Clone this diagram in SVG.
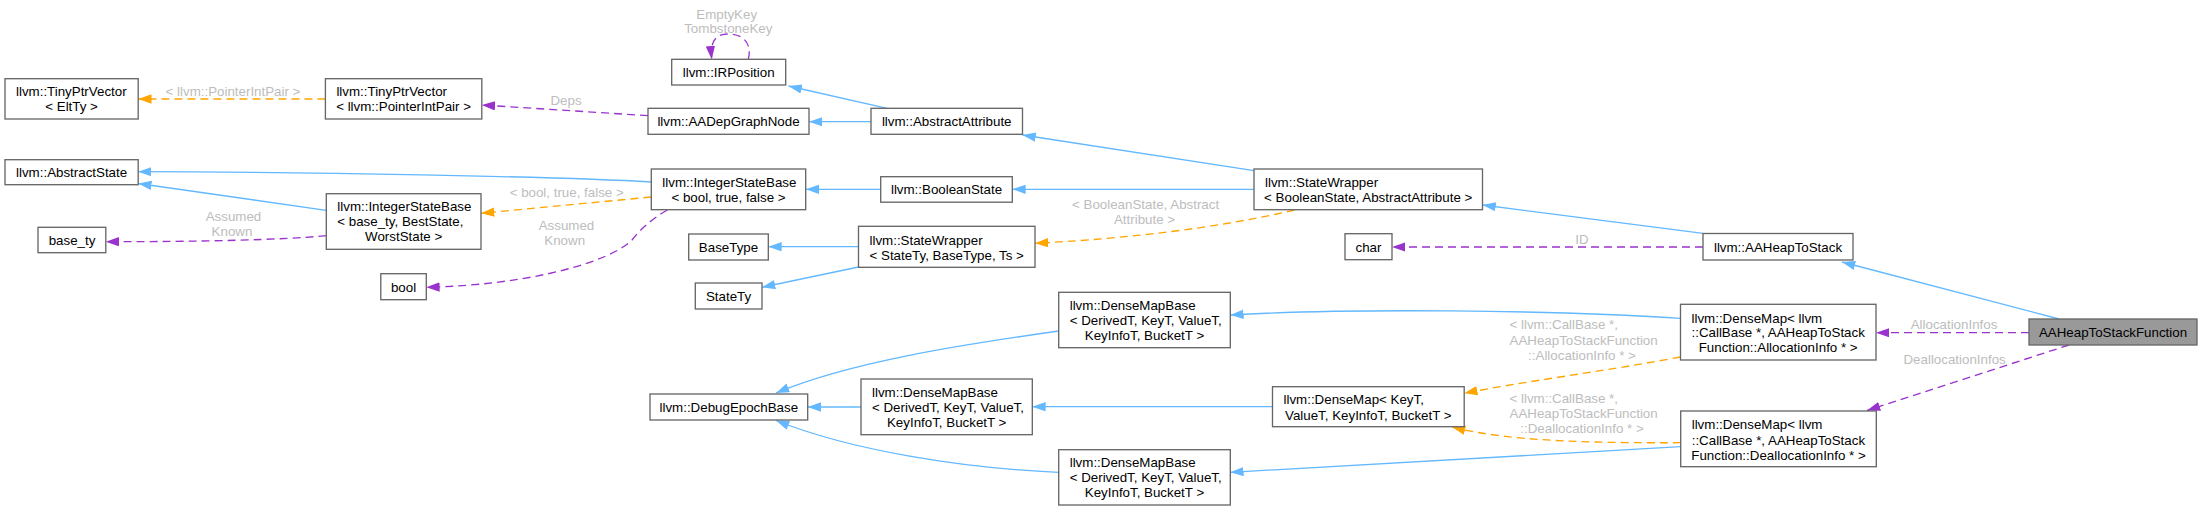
<svg xmlns="http://www.w3.org/2000/svg" width="2203" height="511" viewBox="0 0 2203 511">
<style>
text{font-family:"Liberation Sans",Arial,Helvetica,sans-serif;font-size:13.33px;fill:#000}
.nd{fill:#fff;stroke:#666;stroke-width:1.33}
.cur{fill:#999;stroke:#666;stroke-width:1.33}
.s{text-anchor:start}
.m{text-anchor:middle}
.lb{fill:#bdbdbd;font-size:13.33px}
.b{fill:none;stroke:#63b8ff;stroke-width:1.33;marker-end:url(#ab)}
.o{fill:none;stroke:#ffa500;stroke-width:1.33;stroke-dasharray:8,5;marker-end:url(#ao)}
.p{fill:none;stroke:#9a32cd;stroke-width:1.33;stroke-dasharray:8,5;marker-end:url(#ap)}
</style>
<defs>
<marker id="ab" markerUnits="userSpaceOnUse" markerWidth="15" markerHeight="11" refX="13.3" refY="4.67" orient="auto"><path d="M0,0 L13.3,4.67 L0,9.33 z" fill="#63b8ff"/></marker>
<marker id="ao" markerUnits="userSpaceOnUse" markerWidth="15" markerHeight="11" refX="13.3" refY="4.67" orient="auto"><path d="M0,0 L13.3,4.67 L0,9.33 z" fill="#ffa500"/></marker>
<marker id="ap" markerUnits="userSpaceOnUse" markerWidth="15" markerHeight="11" refX="13.3" refY="4.67" orient="auto"><path d="M0,0 L13.3,4.67 L0,9.33 z" fill="#9a32cd"/></marker>
</defs>
<rect width="2203" height="511" fill="#fff"/>
<g id="edges">
<path class="b" d="M2059,319 L1842,262"/>
<path class="b" d="M1703,233.3 L1482.5,205"/>
<path class="b" d="M1254,189.3 L1012.3,189.3"/>
<path class="b" d="M1254,170.7 L1022.5,135"/>
<path class="b" d="M880.7,189.3 L805.7,189.3"/>
<path class="b" d="M871,121.7 L809,121.7"/>
<path class="b" d="M887,108.3 L788.5,86"/>
<path class="b" d="M651.3,182 C560,176.5 300,172 138.2,171.7"/>
<path class="b" d="M326.3,210.3 L138.2,183.5"/>
<path class="b" d="M858.5,246.7 L768.3,246.7"/>
<path class="b" d="M858.5,267 L762,287.3"/>
<path class="b" d="M1680.5,318.3 C1550,310 1350,308 1230.3,315"/>
<path class="b" d="M1272.5,406.7 L1032.3,406.7"/>
<path class="b" d="M1680.7,446.7 L1230.3,472.3"/>
<path class="b" d="M1058.7,331 C960,345 850,362 776,393"/>
<path class="b" d="M861,407 L807.7,407"/>
<path class="b" d="M1058.7,472.3 C960,468 850,450 776,420.5"/>
<path class="o" d="M325.4,99 L138.2,99"/>
<text class="lb m" x="233" y="96.2">&lt; llvm::PointerIntPair &gt;</text>
<path class="o" d="M651.3,197 L481,213.3"/>
<text class="lb m" x="566.7" y="197.2">&lt; bool, true, false &gt;</text>
<path class="o" d="M1294.6,210 C1200,232 1100,240 1035,243.3"/>
<text class="lb m" x="1145.6" y="208.5">&lt; BooleanState, Abstract</text>
<text class="lb m" x="1144.5" y="223.5">Attribute &gt;</text>
<path class="o" d="M1680.5,357 C1600,372 1520,382 1464.2,393.3"/>
<text class="lb s" x="1509.5" y="328.8">&lt; llvm::CallBase *,</text>
<text class="lb s" x="1509.5" y="344.5">AAHeapToStackFunction</text>
<text class="lb m" x="1582" y="359.8">::AllocationInfo * &gt;</text>
<path class="o" d="M1680.7,442.7 C1600,443 1510,442 1452,427"/>
<text class="lb s" x="1509.5" y="402.8">&lt; llvm::CallBase *,</text>
<text class="lb s" x="1509.5" y="418.2">AAHeapToStackFunction</text>
<text class="lb m" x="1582" y="433.2">::DeallocationInfo * &gt;</text>
<path class="p" d="M648,115.7 L481.8,105"/>
<text class="lb m" x="566" y="104.5">Deps</text>
<path class="p" d="M748.3,59.3 C752,45 745,34 728,34 C715,34 710,42 711.7,59.3"/>
<text class="lb m" x="726.7" y="19.2">EmptyKey</text>
<text class="lb m" x="728.3" y="32.8">TombstoneKey</text>
<path class="p" d="M326.3,235.7 C280,240 200,241.7 105.8,241.7"/>
<text class="lb m" x="233.5" y="220.8">Assumed</text>
<text class="lb m" x="232" y="236.2">Known</text>
<path class="p" d="M667.4,210 C650,220 640,230 632,240 C610,262 530,285 426.3,287.3"/>
<text class="lb m" x="566.5" y="230.2">Assumed</text>
<text class="lb m" x="564.7" y="245.2">Known</text>
<path class="p" d="M1703,247 L1392,247"/>
<text class="lb m" x="1582" y="243.8">ID</text>
<path class="p" d="M2029,332.7 L1876,332.7"/>
<text class="lb m" x="1954" y="328.8">AllocationInfos</text>
<path class="p" d="M2069,345 L1867,410.5"/>
<text class="lb m" x="1954.6" y="364.2">DeallocationInfos</text>
</g>
<g id="n_aahtsf"><rect class="cur" x="2029" y="319" width="168" height="26"/><text class="m" x="2113" y="337.2">AAHeapToStackFunction</text></g>
<g id="n_aahts"><rect class="nd" x="1703" y="233.5" width="150" height="26.5"/><text class="m" x="1778" y="251.5">llvm::AAHeapToStack</text></g>
<g id="n_sw_bool"><rect class="nd" x="1254" y="169" width="228.5" height="40.7"/><text class="s" x="1265" y="186.8">llvm::StateWrapper</text><text class="m" x="1368.2" y="202.2">&lt; BooleanState, AbstractAttribute &gt;</text></g>
<g id="n_char"><rect class="nd" x="1345" y="233.7" width="47" height="26"/><text class="m" x="1368.5" y="251.5">char</text></g>
<g id="n_dm_alloc"><rect class="nd" x="1680.5" y="304.3" width="195.5" height="55.7"/><text class="s" x="1691.5" y="322.5">llvm::DenseMap&lt; llvm</text><text class="s" x="1691.5" y="337.2">::CallBase *, AAHeapToStack</text><text class="m" x="1778.2" y="351.8">Function::AllocationInfo * &gt;</text></g>
<g id="n_dm_dealloc"><rect class="nd" x="1680.7" y="411" width="195.6" height="55.7"/><text class="s" x="1691.7" y="428.8">llvm::DenseMap&lt; llvm</text><text class="s" x="1691.7" y="444.5">::CallBase *, AAHeapToStack</text><text class="m" x="1778.5" y="459.5">Function::DeallocationInfo * &gt;</text></g>
<g id="n_dm"><rect class="nd" x="1272.5" y="386.7" width="191.7" height="40"/><text class="s" x="1283.5" y="403.8">llvm::DenseMap&lt; KeyT,</text><text class="m" x="1368.3" y="419.5">ValueT, KeyInfoT, BucketT &gt;</text></g>
<g id="n_dmb1"><rect class="nd" x="1058.7" y="292.3" width="171.6" height="55.4"/><text class="s" x="1069.7" y="310.2">llvm::DenseMapBase</text><text class="s" x="1069.7" y="325.2">&lt; DerivedT, KeyT, ValueT,</text><text class="m" x="1144.5" y="339.8">KeyInfoT, BucketT &gt;</text></g>
<g id="n_dmb2"><rect class="nd" x="861" y="379" width="171.3" height="55.7"/><text class="s" x="872" y="396.8">llvm::DenseMapBase</text><text class="s" x="872" y="411.8">&lt; DerivedT, KeyT, ValueT,</text><text class="m" x="946.7" y="426.8">KeyInfoT, BucketT &gt;</text></g>
<g id="n_dmb3"><rect class="nd" x="1058.7" y="449.7" width="171.6" height="55.3"/><text class="s" x="1069.7" y="467.2">llvm::DenseMapBase</text><text class="s" x="1069.7" y="481.8">&lt; DerivedT, KeyT, ValueT,</text><text class="m" x="1144.5" y="497.2">KeyInfoT, BucketT &gt;</text></g>
<g id="n_debug"><rect class="nd" x="650" y="394" width="157.7" height="26"/><text class="m" x="728.8" y="411.8">llvm::DebugEpochBase</text></g>
<g id="n_sw_state"><rect class="nd" x="858.5" y="226.3" width="176.5" height="41"/><text class="s" x="869.5" y="244.5">llvm::StateWrapper</text><text class="m" x="946.7" y="259.5">&lt; StateTy, BaseType, Ts &gt;</text></g>
<g id="n_basetype"><rect class="nd" x="688.7" y="234" width="79.6" height="26"/><text class="m" x="728.5" y="251.5">BaseType</text></g>
<g id="n_statety"><rect class="nd" x="695.3" y="283" width="66.7" height="26"/><text class="m" x="728.6" y="300.5">StateTy</text></g>
<g id="n_boolstate"><rect class="nd" x="880.7" y="176.7" width="131.6" height="25.5"/><text class="m" x="946.5" y="193.8">llvm::BooleanState</text></g>
<g id="n_isb_bool"><rect class="nd" x="651.3" y="169" width="154.4" height="40.7"/><text class="s" x="662.3" y="186.8">llvm::IntegerStateBase</text><text class="m" x="728.5" y="202.2">&lt; bool, true, false &gt;</text></g>
<g id="n_absattr"><rect class="nd" x="871" y="108.3" width="151.5" height="26"/><text class="m" x="946.7" y="126.2">llvm::AbstractAttribute</text></g>
<g id="n_depnode"><rect class="nd" x="648" y="108.3" width="161" height="26"/><text class="m" x="728.5" y="126.2">llvm::AADepGraphNode</text></g>
<g id="n_irpos"><rect class="nd" x="671.7" y="59.3" width="114" height="25.7"/><text class="m" x="728.7" y="76.8">llvm::IRPosition</text></g>
<g id="n_tpv_pip"><rect class="nd" x="325.4" y="78.7" width="156.4" height="40.3"/><text class="s" x="336.4" y="96.2">llvm::TinyPtrVector</text><text class="m" x="403.6" y="111.2">&lt; llvm::PointerIntPair &gt;</text></g>
<g id="n_tpv"><rect class="nd" x="5" y="78.7" width="133.2" height="40.3"/><text class="s" x="16" y="96.2">llvm::TinyPtrVector</text><text class="m" x="71.6" y="111.2">&lt; EltTy &gt;</text></g>
<g id="n_absstate"><rect class="nd" x="5" y="159.7" width="133.2" height="25"/><text class="m" x="71.6" y="176.8">llvm::AbstractState</text></g>
<g id="n_isb"><rect class="nd" x="326.3" y="193.7" width="154.7" height="55.6"/><text class="s" x="337.3" y="211.2">llvm::IntegerStateBase</text><text class="s" x="337.3" y="226.2">&lt; base_ty, BestState,</text><text class="m" x="403.7" y="241.2">WorstState &gt;</text></g>
<g id="n_basety"><rect class="nd" x="38" y="227.3" width="67.8" height="25.4"/><text class="m" x="72" y="245.2">base_ty</text></g>
<g id="n_bool"><rect class="nd" x="380.8" y="273.7" width="45.5" height="26"/><text class="m" x="403.5" y="291.8">bool</text></g>
</svg>
